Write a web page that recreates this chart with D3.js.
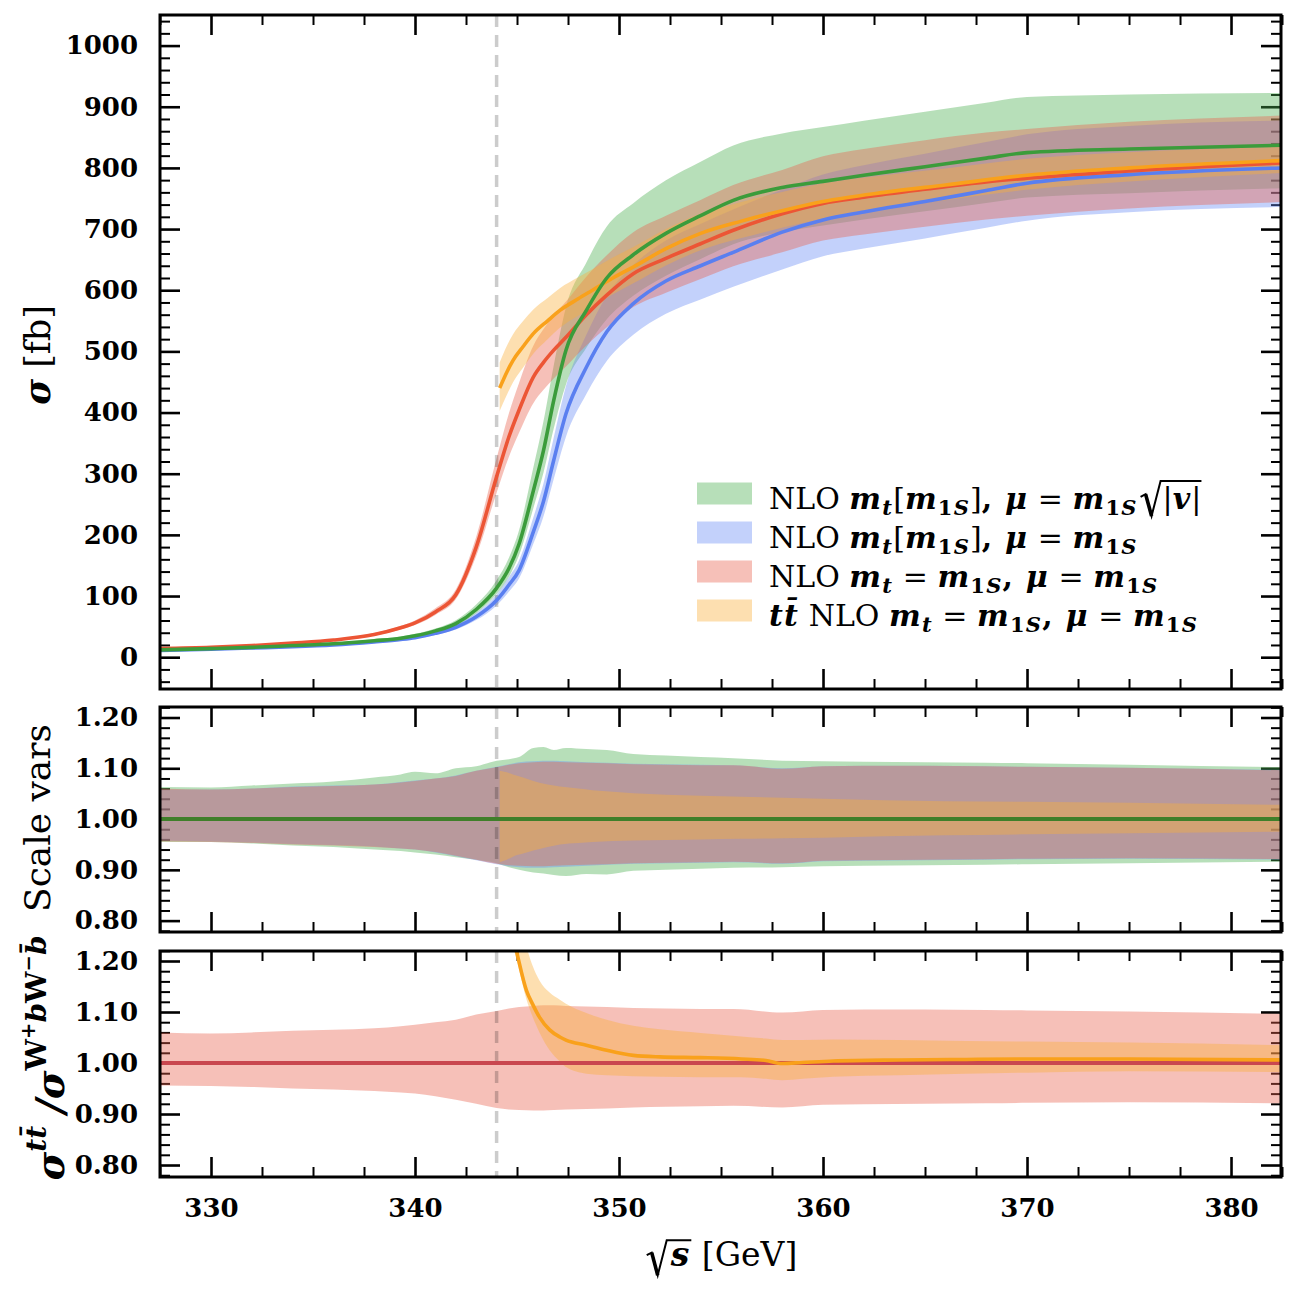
<!DOCTYPE html>
<html>
<head>
<meta charset="utf-8">
<script src="https://cdn.jsdelivr.net/npm/d3@7"></script>
<style>
  body { margin: 0; background: #fff; }
  svg { display: block; }
  svg text { white-space: pre; }
</style>
</head>
<body>
<svg id="chart"></svg>
<script>
// ---- data ----
// sqrt(s) grid [GeV] for the three W+bW-b curves
var xs = [327.5, 330, 332, 334, 336, 338, 339.3, 340, 341, 342, 343, 344, 344.6, 345.1, 345.8, 346.3,
          346.8, 347.4, 348.4, 349.4, 350.7, 352.3, 354, 355.6, 358, 360, 362, 365, 368, 370, 375, 382.5];
// central cross sections [fb]
var greenSigma = [12, 14, 16, 19, 22, 27, 31, 35, 43, 55, 78, 113, 145, 185, 272, 338,
                  420, 502, 567, 620, 658, 693, 722, 747, 768, 778, 788, 802, 816, 825, 831, 837];
var blueSigma  = [11, 13, 15, 17, 20, 25, 29, 32, 39, 49, 66, 93, 118, 142, 205, 255,
                  322, 398, 474, 532, 578, 615, 640, 662, 695, 715, 728, 745, 763, 775, 789, 800];
var redSigma   = [14, 16, 19, 23, 28, 37, 48, 56, 74, 102, 180, 295, 360, 404, 458, 482,
                  502, 523, 560, 592, 627, 652, 676, 698, 725, 742, 752, 765, 777, 783, 795, 808];
// scale variations (ratio to central value)
var greenHi = [1.063, 1.062, 1.066, 1.070, 1.074, 1.082, 1.088, 1.093, 1.090, 1.100, 1.104, 1.115, 1.118, 1.122, 1.140, 1.142,
               1.136, 1.140, 1.138, 1.136, 1.128, 1.125, 1.122, 1.120, 1.115, 1.114, 1.113, 1.112, 1.111, 1.110, 1.107, 1.102];
var greenLo = [0.955, 0.955, 0.952, 0.948, 0.945, 0.940, 0.937, 0.934, 0.930, 0.925, 0.920, 0.913, 0.905, 0.900, 0.895, 0.893,
               0.890, 0.888, 0.892, 0.891, 0.898, 0.900, 0.902, 0.904, 0.905, 0.907, 0.908, 0.909, 0.910, 0.911, 0.913, 0.916];
var blueHi  = [1.058, 1.058, 1.060, 1.064, 1.066, 1.068, 1.073, 1.076, 1.080, 1.086, 1.095, 1.103, 1.108, 1.112, 1.114, 1.115,
               1.115, 1.114, 1.112, 1.111, 1.109, 1.108, 1.107, 1.106, 1.100, 1.104, 1.105, 1.105, 1.104, 1.103, 1.101, 1.097];
var blueLo  = [0.958, 0.956, 0.954, 0.951, 0.949, 0.946, 0.942, 0.940, 0.934, 0.927, 0.919, 0.911, 0.907, 0.905, 0.904, 0.904,
               0.905, 0.906, 0.908, 0.910, 0.912, 0.913, 0.914, 0.915, 0.912, 0.917, 0.918, 0.919, 0.920, 0.921, 0.922, 0.920];
var redHi   = [1.060, 1.058, 1.060, 1.063, 1.065, 1.068, 1.072, 1.075, 1.080, 1.085, 1.095, 1.102, 1.107, 1.110, 1.112, 1.113,
               1.113, 1.112, 1.111, 1.110, 1.108, 1.107, 1.106, 1.106, 1.099, 1.104, 1.105, 1.105, 1.104, 1.103, 1.101, 1.096];
var redLo   = [0.956, 0.955, 0.953, 0.950, 0.948, 0.945, 0.942, 0.940, 0.935, 0.928, 0.920, 0.912, 0.909, 0.908, 0.907, 0.907,
               0.908, 0.909, 0.910, 0.911, 0.913, 0.914, 0.915, 0.916, 0.913, 0.918, 0.919, 0.920, 0.921, 0.922, 0.923, 0.921];

// ttbar NLO curve
var ttX     = [344.15, 344.5, 344.8, 345.3, 345.8, 346.5, 347.1, 348, 348.7, 349.7, 350.7, 352.3, 354, 356, 358, 360, 363, 366, 370, 375, 382.5];
var ttSigma = [440, 466, 485, 508, 529, 550, 567, 586, 600, 620, 638, 668, 693, 713, 730, 745, 760, 772, 788, 800, 812];
var ttHi    = [1.095, 1.092, 1.088, 1.082, 1.075, 1.068, 1.064, 1.060, 1.057, 1.054, 1.051, 1.048, 1.046, 1.044, 1.042, 1.040, 1.037, 1.035, 1.034, 1.032, 1.028];
var ttLo    = [0.915, 0.920, 0.926, 0.932, 0.938, 0.945, 0.950, 0.953, 0.955, 0.957, 0.958, 0.959, 0.960, 0.961, 0.962, 0.963, 0.966, 0.968, 0.970, 0.972, 0.975];

// sigma(ttbar) / sigma(W+bW-b)
var ratioX   = [344.15, 344.5, 344.8, 345.0, 345.46, 345.77, 346.1, 346.6, 347.1, 347.4, 348.4, 349.4, 350.7, 352, 354, 356,
                357.2, 358, 359, 360.5, 363.7, 367, 370, 375, 382.5];
var ratioMid = [1.47, 1.33, 1.25, 1.215, 1.1425, 1.115, 1.090, 1.065, 1.051, 1.045, 1.035, 1.025, 1.015, 1.012, 1.0105, 1.008,
                1.005, 0.999, 1.001, 1.004, 1.006, 1.007, 1.008, 1.008, 1.006];
var ratioHi  = [1.70, 1.50, 1.38, 1.33, 1.23, 1.19, 1.162, 1.138, 1.124, 1.116, 1.098, 1.085, 1.073, 1.066, 1.059, 1.052,
                1.048, 1.045, 1.045, 1.046, 1.045, 1.043, 1.042, 1.040, 1.035];
var ratioLo  = [1.43, 1.30, 1.23, 1.20, 1.125, 1.09, 1.060, 1.025, 1.003, 0.992, 0.979, 0.976, 0.974, 0.973, 0.972, 0.972,
                0.969, 0.966, 0.969, 0.973, 0.976, 0.979, 0.981, 0.984, 0.982];

var thresholdX = 344;
var xTicks = [330, 340, 350, 360, 370, 380];
var sigmaTicks = [0, 100, 200, 300, 400, 500, 600, 700, 800, 900, 1000];
var ratioTicks = [0.8, 0.9, 1.0, 1.1, 1.2];

// ---- layout ----
var W = 1296, H = 1293;
var L = 160, R = 1281;
var FONT = 'DejaVu Serif';

var colors = {
  green:  {fill: '#4caf50', line: '#3b9c3b'},
  blue:   {fill: '#698cf5', line: '#5a7ff0'},
  red:    {fill: '#e9624e', line: '#ec5535'},
  orange: {fill: '#faaf3a', line: '#f9a11b'}
};
var FILL_OP = 0.4;

var x = d3.scaleLinear().domain([327.5, 382.45]).range([L, R]);
var panels = [
  {id: 'top', y0: 15,  y1: 689,  y: d3.scaleLinear().domain([-52, 1050]).range([689, 15])},
  {id: 'mid', y0: 707, y1: 932,  y: d3.scaleLinear().domain([0.7776, 1.2207]).range([932, 707])},
  {id: 'bot', y0: 951, y1: 1177, y: d3.scaleLinear().domain([0.7765, 1.2196]).range([1177, 951])}
];
var pTop = panels[0], pMid = panels[1], pBot = panels[2];

var svg = d3.select('#chart').attr('width', W).attr('height', H)
  .attr('font-family', FONT);
svg.append('rect').attr('width', W).attr('height', H).attr('fill', '#fff');

var defs = svg.append('defs');
panels.forEach(function(p) {
  defs.append('clipPath').attr('id', 'clip-' + p.id)
    .append('rect').attr('x', L).attr('y', p.y0).attr('width', R - L).attr('height', p.y1 - p.y0);
});

function rows(xv, c, hi, lo) {
  return xv.map(function(v, i) { return {x: v, c: c[i], hi: hi ? hi[i] : null, lo: lo ? lo[i] : null}; });
}
var green = rows(xs, greenSigma, greenHi, greenLo);
var blue  = rows(xs, blueSigma, blueHi, blueLo);
var red   = rows(xs, redSigma, redHi, redLo);
var tt    = rows(ttX, ttSigma, ttHi, ttLo);
var ratio = rows(ratioX, ratioMid, ratioHi, ratioLo);

// ---- ticks (drawn first, fills go over them like in the original) ----
var xMinor = d3.range(327.5, 383, 2.5).filter(function(v) { return v % 10 !== 0; });
var sigmaMinor = d3.range(-40, 1050, 20).filter(function(v) { return v % 100 !== 0; });
var ratioMinor = d3.range(0, 23).map(function(i) { return +(0.78 + i * 0.02).toFixed(2); })
  .filter(function(v) { return Math.abs(v * 10 - Math.round(v * 10)) > 1e-6; });

function drawTicks(p, major, minor, fmt, labelX) {
  var g = svg.append('g').attr('class', 'ticks-' + p.id);
  function add(axis, tr, isMajor) {
    var a = g.append('g').attr('transform', tr).call(axis);
    a.select('.domain').remove();
    a.selectAll('.tick line').attr('stroke', '#000').attr('stroke-width', isMajor ? 2.6 : 2);
    a.attr('font-family', FONT).attr('font-size', 26).attr('font-weight', 'bold');
    a.selectAll('text').attr('fill', '#000');
    return a;
  }
  add(d3.axisLeft(p.y).tickValues(major).tickSize(-20).tickPadding(22).tickFormat(fmt), 'translate(' + L + ',0)', true);
  add(d3.axisLeft(p.y).tickValues(minor).tickSize(-10).tickFormat(''), 'translate(' + L + ',0)', false);
  add(d3.axisRight(p.y).tickValues(major).tickSize(-20).tickFormat(''), 'translate(' + R + ',0)', true);
  add(d3.axisRight(p.y).tickValues(minor).tickSize(-10).tickFormat(''), 'translate(' + R + ',0)', false);
  add(d3.axisTop(x).tickValues(xTicks).tickSize(-20).tickFormat(''), 'translate(0,' + p.y0 + ')', true);
  add(d3.axisTop(x).tickValues(xMinor).tickSize(-10).tickFormat(''), 'translate(0,' + p.y0 + ')', false);
  add(d3.axisBottom(x).tickValues(xTicks).tickSize(-20).tickPadding(22)
      .tickFormat(labelX ? d3.format('d') : ''), 'translate(0,' + p.y1 + ')', true);
  add(d3.axisBottom(x).tickValues(xMinor).tickSize(-10).tickFormat(''), 'translate(0,' + p.y1 + ')', false);
}
drawTicks(pTop, sigmaTicks, sigmaMinor, d3.format('d'), false);
drawTicks(pMid, ratioTicks, ratioMinor, d3.format('.2f'), false);
drawTicks(pBot, ratioTicks, ratioMinor, d3.format('.2f'), true);

// ---- marks ----
function band(p, data, col, absolute) {
  var area = d3.area().curve(d3.curveMonotoneX)
    .x(function(d) { return x(d.x); })
    .y0(function(d) { return p.y(absolute ? d.c * d.lo : d.lo); })
    .y1(function(d) { return p.y(absolute ? d.c * d.hi : d.hi); });
  p.g.append('path').datum(data).attr('d', area)
    .attr('fill', col).attr('fill-opacity', FILL_OP).attr('stroke', 'none');
}
function curve(p, data, col, width, acc) {
  var line = d3.line().curve(d3.curveMonotoneX)
    .x(function(d) { return x(d.x); })
    .y(function(d) { return p.y(acc(d)); });
  p.g.append('path').datum(data).attr('d', line)
    .attr('fill', 'none').attr('stroke', col).attr('stroke-width', width);
}
function threshold(p) {
  p.g.append('line')
    .attr('x1', x(thresholdX)).attr('x2', x(thresholdX))
    .attr('y1', p.y0).attr('y2', p.y1)
    .attr('stroke', '#000').attr('stroke-opacity', 0.2)
    .attr('stroke-width', 3.5).attr('stroke-dasharray', '12,8');
}
panels.forEach(function(p) {
  p.g = svg.append('g').attr('clip-path', 'url(#clip-' + p.id + ')');
});

// top: cross sections
band(pTop, green, colors.green.fill, true);
band(pTop, blue, colors.blue.fill, true);
band(pTop, red, colors.red.fill, true);
band(pTop, tt, colors.orange.fill, true);
threshold(pTop);
curve(pTop, blue, colors.blue.line, 3.6, function(d) { return d.c; });
curve(pTop, red, colors.red.line, 3.6, function(d) { return d.c; });
curve(pTop, tt, colors.orange.line, 3.6, function(d) { return d.c; });
curve(pTop, green, colors.green.line, 3.6, function(d) { return d.c; });

// middle: scale variations
band(pMid, green, colors.green.fill, false);
band(pMid, blue, colors.blue.fill, false);
band(pMid, red, colors.red.fill, false);
band(pMid, tt, colors.orange.fill, false);
threshold(pMid);
curve(pMid, green, '#3f7f2a', 4, function() { return 1; });

// bottom: ttbar / W+bW-b ratio
band(pBot, red, colors.red.fill, false);
band(pBot, ratio, colors.orange.fill, false);
threshold(pBot);
curve(pBot, red, '#c9474f', 4, function() { return 1; });
curve(pBot, ratio, colors.orange.line, 3.6, function(d) { return d.c; });

// frames
panels.forEach(function(p) {
  svg.append('rect').attr('x', L).attr('y', p.y0).attr('width', R - L).attr('height', p.y1 - p.y0)
    .attr('fill', 'none').attr('stroke', '#000').attr('stroke-width', 3);
});

// ---- rich text helper (roman / bold / bold italic, sub- and superscripts) ----
var styles = {
  'r':   {w: 'normal', it: false, k: 1,    dy: 0},
  'b':   {w: 'bold',   it: false, k: 1,    dy: 0},
  'bi':  {w: 'bold',   it: true,  k: 1,    dy: 0},
  'bi_': {w: 'bold',   it: true,  k: 0.7,  dy: 0.22},
  'b_':  {w: 'bold',   it: false, k: 0.7,  dy: 0.22},
  'bi^': {w: 'bold',   it: true,  k: 0.72, dy: -0.45},
  'b^':  {w: 'bold',   it: false, k: 0.72, dy: -0.45},
  'b^^': {w: 'bold',   it: false, k: 0.5,  dy: -0.75}
};
function richText(parent, px, py, parts, size, anchor, mathSpacing) {
  var t = parent.append('text').attr('x', px).attr('y', py)
    .attr('font-size', size).attr('text-anchor', anchor || 'start').attr('fill', '#000');
  var shift = 0;
  parts.forEach(function(p) {
    var s = styles[p[1]];
    var target = s.dy * size;
    var ts = t.append('tspan').text(p[0])
      .attr('font-size', size * s.k).attr('font-weight', s.w)
      .attr('font-style', s.it ? 'italic' : 'normal');
    if (mathSpacing && p[1] !== 'r') ts.attr('letter-spacing', mathSpacing);
    if (Math.abs(target - shift) > 0.01) ts.attr('dy', target - shift);
    shift = target;
  });
  return t;
}
function radical(parent, x0, base, top, bottom, endX) {
  var w = 20;
  var p = d3.path();
  p.moveTo(x0, base - 0.42 * (base - top));
  p.lineTo(x0 + 0.25 * w, base - 0.52 * (base - top));
  p.lineTo(x0 + 0.55 * w, bottom);
  p.lineTo(x0 + w, top);
  p.lineTo(endX, top);
  parent.append('path').attr('d', p.toString()).attr('fill', 'none')
    .attr('stroke', '#000').attr('stroke-width', 2).attr('stroke-linejoin', 'miter');
  parent.append('line')
    .attr('x1', x0 + 0.25 * w).attr('y1', base - 0.52 * (base - top))
    .attr('x2', x0 + 0.55 * w).attr('y2', bottom)
    .attr('stroke', '#000').attr('stroke-width', 3.6);
  return x0 + w;
}

// ---- legend ----
var m1S = [['m', 'bi'], ['1', 'b_'], ['S', 'bi_']];
var legendItems = [
  {col: colors.green.fill,
   parts: [['NLO ', 'r'], ['m', 'bi'], ['t', 'bi_'], ['[', 'r']].concat(m1S,
          [[']', 'r'], [', ', 'b'], ['\u03bc', 'bi'], [' = ', 'r']], m1S),
   root: [['|', 'r'], ['v', 'bi'], ['|', 'r']]},
  {col: colors.blue.fill,
   parts: [['NLO ', 'r'], ['m', 'bi'], ['t', 'bi_'], ['[', 'r']].concat(m1S,
          [[']', 'r'], [', ', 'b'], ['\u03bc', 'bi'], [' = ', 'r']], m1S)},
  {col: colors.red.fill,
   parts: [['NLO ', 'r'], ['m', 'bi'], ['t', 'bi_'], [' = ', 'r']].concat(m1S,
          [[', ', 'b'], ['\u03bc', 'bi'], [' = ', 'r']], m1S)},
  {col: colors.orange.fill,
   parts: [['t', 'bi'], ['t\u0304', 'bi'], [' NLO ', 'r'], ['m', 'bi'], ['t', 'bi_'], [' = ', 'r']].concat(m1S,
          [[', ', 'b'], ['\u03bc', 'bi'], [' = ', 'r']], m1S)}
];
var legend = svg.append('g').attr('class', 'legend');
var LEG_FS = 30;
legendItems.forEach(function(it, i) {
  var cy = 493.5 + i * 39;
  legend.append('rect').attr('x', 697).attr('y', cy - 11).attr('width', 55).attr('height', 22)
    .attr('fill', it.col).attr('fill-opacity', FILL_OP);
  var t = richText(legend, 769, cy + 15, it.parts, LEG_FS, 'start', 1.2);
  if (it.root) {
    var end = 769 + t.node().getComputedTextLength() + 3;
    var base = cy + 15;
    var t2 = richText(legend, end + 22, base, it.root, LEG_FS, 'start', 1.2);
    var len = t2.node().getComputedTextLength();
    radical(legend, end, base, base - 0.92 * LEG_FS, base + 0.25 * LEG_FS, end + 22 + len);
  }
});

// ---- axis labels ----
var labels = svg.append('g').attr('class', 'labels');
richText(labels.append('g').attr('transform', 'translate(50,355) rotate(-90)'), 0, 0,
  [['\u03c3', 'bi'], [' [fb]', 'r']], 35, 'middle');
richText(labels.append('g').attr('transform', 'translate(50,818) rotate(-90)'), 0, 0,
  [['Scale vars', 'r']], 36, 'middle');
richText(labels.append('g').attr('transform', 'translate(64,1058) rotate(-90)'), 0, 0,
  [['\u03c3', 'bi'], ['t', 'bi^'], ['t\u0304', 'bi^'], [' ', 'r'], ['/', 'bi'], ['\u03c3', 'bi'],
   ['W', 'b^'], ['+', 'b^^'], ['b', 'bi^'], ['W', 'b^'], ['\u2212', 'b^^'], ['b\u0304', 'bi^']], 39, 'middle');

// x label: sqrt(s) [GeV]
(function() {
  var fs = 33, base = 1266;
  var g = labels.append('g');
  var sT = richText(g, 0, base, [['s', 'bi']], fs);
  var gT = richText(g, 0, base, [['\u00a0[GeV]', 'r']], fs);
  var sw = sT.node().getComputedTextLength(), gw = gT.node().getComputedTextLength();
  var total = 24 + sw + gw;
  var x0 = 721 - total / 2;
  sT.attr('x', x0 + 24);
  gT.attr('x', x0 + 24 + sw + 2);
  radical(g, x0, base, base - 0.78 * fs, base + 0.28 * fs, x0 + 24 + sw + 2);
})();
</script>
</body>
</html>
